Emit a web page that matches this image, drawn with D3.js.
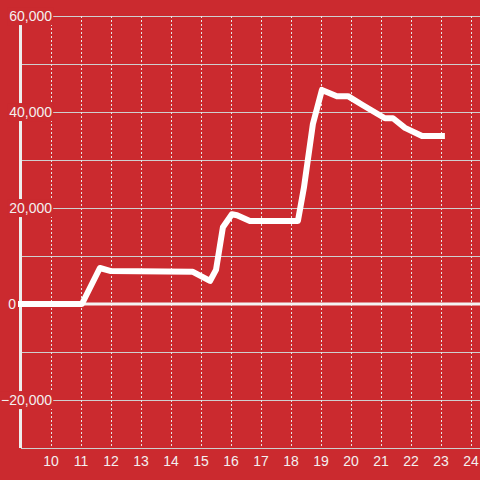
<!DOCTYPE html>
<html>
<head>
<meta charset="utf-8">
<script src="https://cdn.jsdelivr.net/npm/d3@7"></script>
<style>
  html, body { margin: 0; padding: 0; background: #cb2a2f; }
  svg { display: block; }
</style>
</head>
<body>
<div id="chart"></div>
<script>
// hour of day and value
const hours = [9, 11.03, 11.63, 11.97, 14.73, 15.3, 15.5, 15.73, 16.03, 16.2, 16.63, 18.23, 18.43, 18.73, 19.03, 19.53, 19.9, 20.37, 21.13, 21.4, 21.8, 22.37, 23.03];
const values = [0, 0, 7500, 6900, 6700, 4800, 7100, 16000, 18700, 18500, 17300, 17300, 24200, 37500, 44600, 43300, 43300, 41500, 38700, 38700, 36700, 35000, 35000];
const xTicks = [10, 11, 12, 13, 14, 15, 16, 17, 18, 19, 20, 21, 22, 23, 24];
const yGrid = [-30000, -20000, -10000, 0, 10000, 20000, 30000, 40000, 50000, 60000];
const yLabels = [-20000, 0, 20000, 40000, 60000];

const width = 480, height = 480;
const bg = "#cb2a2f";

const x = d3.scaleLinear().domain([9, 24.3]).range([21, 480]);
const y = d3.scaleLinear().domain([-30000, 60000]).range([448, 16]);

const svg = d3.select("#chart").append("svg")
    .attr("width", width)
    .attr("height", height)
    .style("font-family", "'Liberation Sans', Arial, sans-serif");

svg.append("rect").attr("width", width).attr("height", height).attr("fill", bg);

// horizontal grid
svg.append("g")
    .selectAll("line")
    .data(yGrid.filter(d => d !== 0))
    .join("line")
    .attr("x1", x(9)).attr("x2", width)
    .attr("y1", d => y(d)).attr("y2", d => y(d))
    .attr("stroke", "#cfcfcf")
    .attr("stroke-width", 1)
    .attr("shape-rendering", "crispEdges");

// vertical dotted grid
svg.append("g")
    .selectAll("line")
    .data(xTicks)
    .join("line")
    .attr("x1", d => Math.round(x(d)) + 0.5).attr("x2", d => Math.round(x(d)) + 0.5)
    .attr("y1", y(60000)).attr("y2", y(-30000))
    .attr("stroke", "#e6e6e6")
    .attr("stroke-width", 1)
    .attr("stroke-dasharray", "2,2");

// zero line
svg.append("line")
    .attr("x1", x(9)).attr("x2", width)
    .attr("y1", y(0)).attr("y2", y(0))
    .attr("stroke", "#f4f4f4")
    .attr("stroke-width", 3);

// y axis line
svg.append("line")
    .attr("x1", x(9) - 0.5).attr("x2", x(9) - 0.5)
    .attr("y1", y(60000)).attr("y2", y(-30000))
    .attr("stroke", "#eeeeee")
    .attr("stroke-width", 3);

// data line
const line = d3.line()
    .x((d, i) => x(hours[i]))
    .y(d => y(d));

svg.append("path")
    .datum(values)
    .attr("fill", "none")
    .attr("stroke", "#ffffff")
    .attr("stroke-width", 6)
    .attr("stroke-linejoin", "round")
    .attr("stroke-linecap", "square")
    .attr("d", line);

// y labels with background
const fmt = d3.format(",");
const yl = svg.append("g")
    .selectAll("g")
    .data(yLabels)
    .join("g");

yl.append("text")
    .attr("x", d => d === 0 ? 16 : 52)
    .attr("y", d => y(d))
    .attr("dy", "0.36em")
    .attr("text-anchor", "end")
    .attr("fill", "#f3f0f0")
    .style("font-size", "14px")
    .text(d => fmt(d));

yl.each(function () {
    const g = d3.select(this);
    const t = g.select("text");
    if (t.text() === "0") return;
    const b = t.node().getBBox();
    g.insert("rect", "text")
        .attr("x", b.x - 2).attr("y", b.y - 1)
        .attr("width", b.width + 3).attr("height", b.height + 2)
        .attr("fill", bg);
});

// x labels
svg.append("g")
    .selectAll("text")
    .data(xTicks)
    .join("text")
    .attr("x", d => x(d))
    .attr("y", 461)
    .attr("dy", "0.36em")
    .attr("text-anchor", "middle")
    .attr("fill", "#f3f0f0")
    .style("font-size", "14px")
    .text(d => d);
</script>
</body>
</html>
